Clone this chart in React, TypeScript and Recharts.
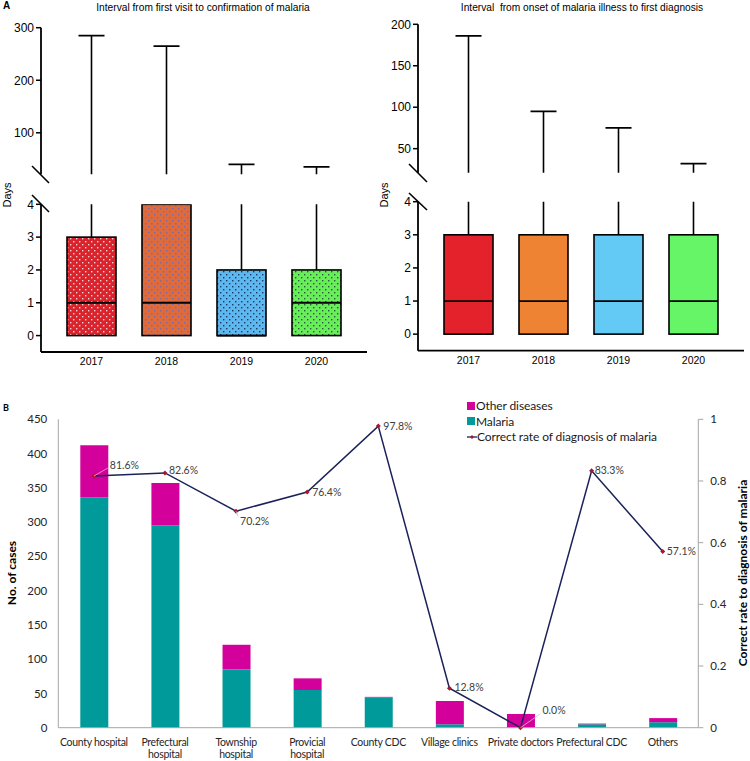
import { BarChart, Bar, ComposedChart, Line, XAxis, YAxis, Legend, LabelList } from 'recharts';

// ---- Panel A data ----
const years = ['2017', '2018', '2019', '2020'];

// interval from first visit to confirmation of malaria (days)
const visitQ1 = [0, 0, 0, 0];
const visitMedian = [1, 1, 0, 1];
const visitQ3 = [3, 4, 2, 2];
const visitMax = [285, 265, 40, 35];

// interval from onset of malaria illness to first diagnosis (days)
const onsetQ1 = [0, 0, 0, 0];
const onsetMedian = [1, 1, 1, 1];
const onsetQ3 = [3, 3, 3, 3];
const onsetMax = [186, 95, 75, 32];

const visitTopTicks = [100, 200, 300];
const onsetTopTicks = [50, 100, 150, 200];
const lowerTicks = [0, 1, 2, 3, 4];

// ---- Panel B data ----
const facilities = ['County hospital', 'Prefectural hospital', 'Township hospital', 'Provicial hospital', 'County CDC', 'Village clinics', 'Private doctors', 'Prefectural CDC', 'Others'];
const malariaCases = [336, 295, 85, 55, 44, 5, 0, 5, 8];
const otherCases = [76, 62, 36, 17, 1, 34, 20, 1, 6];
const correctRate = [0.816, 0.826, 0.702, 0.764, 0.978, 0.128, 0, 0.833, 0.571];

const caseTicks = [0, 50, 100, 150, 200, 250, 300, 350, 400, 450];
const rateTicks = [0, 0.2, 0.4, 0.6, 0.8, 1];

const ARIAL = "'Liberation Sans', Arial, sans-serif";
const CALIBRI = 'Lato, sans-serif';

const boxTable = (q1: number[], med: number[], q3: number[], max: number[]) =>
  years.map((year, i) => ({ year, q1: q1[i], med: med[i], q3: q3[i], max: max[i] }));

const visitData = boxTable(visitQ1, visitMedian, visitQ3, visitMax);
const onsetData = boxTable(onsetQ1, onsetMedian, onsetQ3, onsetMax);

const bData = facilities.map((name, i) => ({
  name,
  malaria: malariaCases[i],
  other: otherCases[i],
  rate: correctRate[i],
}));

const patternFills = ['url(#dotRed)', 'url(#dotOrange)', 'url(#dotBlue)', 'url(#dotGreen)'];
const solidFills = ['#e4222b', '#ee8433', '#63c9f5', '#66f566'];

function Whisker(props: any) {
  const { x, y, width, height, cap } = props;
  const cx = x + width / 2;
  return (
    <g>
      <line x1={cx} x2={cx} y1={y} y2={y + height} stroke="#000" strokeWidth={1.6} />
      {cap && <line x1={cx - 13} x2={cx + 13} y1={y} y2={y} stroke="#000" strokeWidth={1.8} />}
    </g>
  );
}

function Box(props: any) {
  const { x, y, width, height, payload, index, fills } = props;
  const { q1, med, q3 } = payload;
  const medY = y + (height * (q3 - med)) / (q3 - q1);
  return (
    <g>
      <rect x={x} y={y} width={width} height={height} fill={fills[index]} stroke="#000" strokeWidth={1.6} />
      <line x1={x} x2={x + width} y1={medY} y2={medY} stroke="#000" strokeWidth={1.8} />
    </g>
  );
}

const axisLineA = { stroke: '#000', strokeWidth: 1.8 };
const tickA = { fill: '#000', fontSize: 12, fontFamily: ARIAL };

function BoxPanel({ data, topTicks, topDomain, fills, yWidth, right, upperTop, upperBottom, lowerTop, xHeight }: any) {
  return (
    <div style={{ position: 'relative', width: 375, height: 380 }}>
      <BarChart width={375} height={180} data={data} margin={{ top: upperTop, right, left: 0, bottom: upperBottom }}>
        <XAxis dataKey="year" hide padding={{ left: 13, right: 13 }} />
        <YAxis
          domain={topDomain}
          ticks={topTicks}
          allowDataOverflow
          width={yWidth}
          axisLine={axisLineA}
          tickLine={{ stroke: '#000', strokeWidth: 1.5 }}
          tickSize={5}
          tickMargin={2}
          tick={tickA}
        />
        <Bar
          dataKey={(d: any) => [d.q3, d.max]}
          barSize={49}
          isAnimationActive={false}
          shape={(p: any) => <Whisker {...p} cap />}
        />
      </BarChart>
      <BarChart width={375} height={200} data={data} margin={{ top: lowerTop, right, left: 0, bottom: 0 }}>
        <XAxis
          dataKey="year"
          height={xHeight}
          padding={{ left: 13, right: 13 }}
          axisLine={axisLineA}
          tickLine={false}
          tickSize={0}
          tickMargin={6}
          tick={{ fill: '#000', fontSize: 10.5, fontFamily: ARIAL }}
        />
        <XAxis dataKey="year" xAxisId="w" hide padding={{ left: 13, right: 13 }} />
        <YAxis
          domain={[-0.5, 4]}
          ticks={lowerTicks}
          allowDataOverflow
          width={yWidth}
          axisLine={axisLineA}
          tickLine={{ stroke: '#000', strokeWidth: 1.5 }}
          tickSize={5}
          tickMargin={2}
          tick={tickA}
        />
        <Bar
          xAxisId="w"
          dataKey={(d: any) => [d.q3, d.max]}
          barSize={49}
          isAnimationActive={false}
          shape={(p: any) => <Whisker {...p} />}
        />
        <Bar
          dataKey={(d: any) => [d.q1, d.q3]}
          barSize={49}
          isAnimationActive={false}
          shape={(p: any) => <Box {...p} fills={fills} />}
        />
      </BarChart>
    </div>
  );
}

function FacilityTick({ x, y, payload }: any) {
  const label: string = payload.value;
  let lines = [label];
  if (label.length > 15) {
    const cut = label.lastIndexOf(' ');
    lines = [label.slice(0, cut), label.slice(cut + 1)];
  }
  return (
    <text x={x} y={y + 18} textAnchor="middle" fill="#262626" fontSize={10.5} letterSpacing={-0.3} fontFamily={CALIBRI}>
      {lines.map((l, i) => (
        <tspan key={i} x={x} dy={i === 0 ? 0 : 12.5}>
          {l}
        </tspan>
      ))}
    </text>
  );
}

// label placement for the rate labels (dx, dy, leader line)
const rateLabelOffsets: [number, number, string | null][] = [
  [16, -11, '#f2a6c8'],
  [4, -3, null],
  [4, 10, '#bbbbbb'],
  [5, 0, null],
  [5, 0, null],
  [5, -1, null],
  [22, -17, '#c8c8c8'],
  [3, 0, null],
  [4, 0, null],
];

function RateLabel(props: any) {
  const { x, y, value, index } = props;
  const [dx, dy, leader] = rateLabelOffsets[index];
  return (
    <g>
      {leader && <line x1={x} y1={y} x2={x + dx - 2} y2={y + dy + (dy < 0 ? 3 : -5)} stroke={leader} strokeWidth={0.8} />}
      <text x={x + dx} y={y + dy} dy="0.35em" fontSize={10.5} fill="#404040" fontFamily={CALIBRI}>
        {(value * 100).toFixed(1)}%
      </text>
    </g>
  );
}

function RateDot(props: any) {
  const { cx, cy } = props;
  return <path d={`M${cx - 2.5},${cy} L${cx},${cy - 2.5} L${cx + 2.5},${cy} L${cx},${cy + 2.5} Z`} fill="#a8182b" />;
}

const legendItems = [
  { label: 'Other diseases', color: '#d4009c', kind: 'square' },
  { label: 'Malaria', color: '#009a9a', kind: 'square' },
  { label: 'Correct rate of diagnosis of malaria', color: '#1b2259', kind: 'line' },
];

function LegendBox() {
  return (
    <div style={{ fontFamily: CALIBRI, fontSize: 12, letterSpacing: -0.1, color: '#1a1a1a', lineHeight: '15.5px' }}>
      {legendItems.map((it) => (
        <div key={it.label} style={{ display: 'flex', alignItems: 'center', whiteSpace: 'nowrap' }}>
          {it.kind === 'square' ? (
            <span style={{ display: 'inline-block', width: 8, height: 8, background: it.color, marginRight: 1 }} />
          ) : (
            <svg width={10} height={8}>
              <line x1={0} x2={10} y1={4} y2={4} stroke={it.color} strokeWidth={1.3} />
              <path d="M3,4 L5,2 L7,4 L5,6 Z" fill="#a8182b" />
            </svg>
          )}
          <span>{it.label}</span>
        </div>
      ))}
    </div>
  );
}

const txt = (extra: any) => ({ position: 'absolute' as const, whiteSpace: 'nowrap' as const, ...extra });

export default function App() {
  return (
    <div style={{ position: 'absolute', left: 0, top: 0, width: 750, height: 761, background: '#fff', overflow: 'hidden' }}>
      <svg width={0} height={0} style={{ position: 'absolute' }}>
        <defs>
          <pattern id="dotRed" width={6} height={6} patternUnits="userSpaceOnUse">
            <rect width={6} height={6} fill="#d9232d" />
            <rect x={1} y={1} width={1.4} height={1.4} fill="#f6d0d0" />
            <rect x={4} y={4} width={1.4} height={1.4} fill="#f6d0d0" />
          </pattern>
          <pattern id="dotOrange" width={6} height={6} patternUnits="userSpaceOnUse">
            <rect width={6} height={6} fill="#df6a3c" />
            <rect x={1} y={1} width={1.4} height={1.4} fill="#7d6a9e" />
            <rect x={4} y={4} width={1.4} height={1.4} fill="#7d6a9e" />
          </pattern>
          <pattern id="dotBlue" width={6} height={6} patternUnits="userSpaceOnUse">
            <rect width={6} height={6} fill="#5cb8ee" />
            <rect x={1} y={1} width={1.4} height={1.4} fill="#1d3a66" />
            <rect x={4} y={4} width={1.4} height={1.4} fill="#1d3a66" />
          </pattern>
          <pattern id="dotGreen" width={6} height={6} patternUnits="userSpaceOnUse">
            <rect width={6} height={6} fill="#68ee58" />
            <rect x={1} y={1} width={1.4} height={1.4} fill="#2c5a3c" />
            <rect x={4} y={4} width={1.4} height={1.4} fill="#2c5a3c" />
          </pattern>
        </defs>
      </svg>

      {/* Panel A */}
      <div style={{ position: 'absolute', left: 0, top: 0 }}>
        <BoxPanel
          data={visitData}
          topTicks={visitTopTicks}
          topDomain={[21, 300]}
          fills={patternFills}
          yWidth={41}
          right={8}
          upperTop={27.7}
          upperBottom={5.7}
          lowerTop={24.3}
          xHeight={28}
        />
      </div>
      <div style={{ position: 'absolute', left: 375, top: 0 }}>
        <BoxPanel
          data={onsetData}
          topTicks={onsetTopTicks}
          topDomain={[21, 200]}
          fills={solidFills}
          yWidth={43}
          right={6}
          upperTop={24.3}
          upperBottom={7.3}
          lowerTop={21.7}
          xHeight={29.3}
        />
      </div>

      {/* axis breaks */}
      <svg width={750} height={400} style={{ position: 'absolute', left: 0, top: 0, pointerEvents: 'none' }}>
        <g stroke="#000" strokeWidth={1.6}>
          <line x1={32} y1={166} x2={49} y2={183} />
          <line x1={32} y1={195} x2={49} y2={212} />
          <line x1={409} y1={164} x2={427} y2={182} />
          <line x1={409} y1={193} x2={427} y2={210} />
        </g>
      </svg>

      <div style={txt({ left: 3, top: 0, fontFamily: ARIAL, fontSize: 10, fontWeight: 'bold' })}>A</div>
      <div style={txt({ left: 203, top: 7, transform: 'translate(-50%, -50%)', fontFamily: ARIAL, fontSize: 10.2 })}>
        Interval from first visit to confirmation of malaria
      </div>
      <div style={txt({ left: 582, top: 7, transform: 'translate(-50%, -50%)', fontFamily: ARIAL, fontSize: 10.2 })}>
        Interval&nbsp; from onset of malaria illness to first diagnosis
      </div>
      <div style={txt({ left: 7, top: 195, transform: 'translate(-50%, -50%) rotate(-90deg)', fontFamily: ARIAL, fontSize: 11 })}>Days</div>
      <div style={txt({ left: 384, top: 195, transform: 'translate(-50%, -50%) rotate(-90deg)', fontFamily: ARIAL, fontSize: 11 })}>Days</div>

      {/* Panel B */}
      <div style={{ position: 'absolute', left: 0, top: 390 }}>
        <ComposedChart width={750} height={371} data={bData} margin={{ top: 29.3, right: 0, left: 0, bottom: 0 }}>
          <XAxis
            dataKey="name"
            height={33.3}
            interval={0}
            axisLine={{ stroke: '#a6a6a6', strokeWidth: 1 }}
            tickLine={false}
            tickSize={0}
            tickMargin={0}
            tick={<FacilityTick />}
          />
          <YAxis
            yAxisId="cases"
            domain={[0, 450]}
            ticks={caseTicks}
            width={58.3}
            axisLine={{ stroke: '#a6a6a6', strokeWidth: 1 }}
            tickLine={false}
            tickSize={0}
            tickMargin={11}
            tick={{ fill: '#262626', fontSize: 11.5, fontFamily: CALIBRI }}
          />
          <YAxis
            yAxisId="rate"
            orientation="right"
            domain={[0, 1]}
            ticks={rateTicks}
            width={51.7}
            axisLine={{ stroke: '#a6a6a6', strokeWidth: 1 }}
            tickLine={{ stroke: '#a6a6a6' }}
            tickSize={5}
            tickMargin={7}
            tick={{ fill: '#262626', fontSize: 11.5, fontFamily: CALIBRI }}
          />
          <Legend
            layout="vertical"
            align="center"
            verticalAlign="middle"
            wrapperStyle={{ top: 8, left: 467, width: 'auto' }}
            content={() => <LegendBox />}
          />
          <Bar yAxisId="cases" dataKey="malaria" name="Malaria" stackId="c" fill="#009a9a" barSize={28} isAnimationActive={false} />
          <Bar yAxisId="cases" dataKey="other" name="Other diseases" stackId="c" fill="#d4009c" barSize={28} isAnimationActive={false} />
          <Line
            yAxisId="rate"
            type="linear"
            dataKey="rate"
            name="Correct rate of diagnosis of malaria"
            stroke="#1b2259"
            strokeWidth={1.5}
            dot={<RateDot />}
            activeDot={false}
            isAnimationActive={false}
          >
            <LabelList dataKey="rate" content={<RateLabel />} />
          </Line>
        </ComposedChart>
      </div>

      <div style={txt({ left: 3, top: 402, fontFamily: CALIBRI, fontSize: 9, fontWeight: 'bold' })}>B</div>
      <div style={txt({ left: 11, top: 573, transform: 'translate(-50%, -50%) rotate(-90deg)', fontFamily: CALIBRI, fontSize: 12, fontWeight: 'bold' })}>
        No. of cases
      </div>
      <div style={txt({ left: 742, top: 573, transform: 'translate(-50%, -50%) rotate(-90deg)', fontFamily: CALIBRI, fontSize: 12, fontWeight: 'bold' })}>
        Correct rate to diagnosis of malaria
      </div>
    </div>
  );
}
